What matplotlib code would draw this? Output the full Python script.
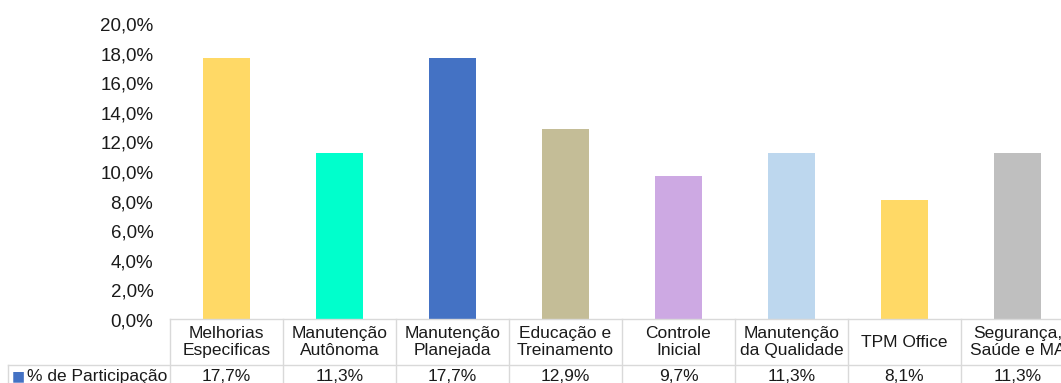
import matplotlib
matplotlib.use("Agg")
import matplotlib.pyplot as plt
from matplotlib.ticker import FuncFormatter, MultipleLocator
import matplotlib.transforms as mtransforms

plt.rcParams['font.family'] = ['Liberation Sans', 'DejaVu Sans']

categorias = ["Melhorias\nEspecificas", "Manutenção\nAutônoma", "Manutenção\nPlanejada",
              "Educação e\nTreinamento", "Controle\nInicial", "Manutenção\nda Qualidade",
              "TPM Office", "Segurança,\nSaúde e MA"]
participacao = [17.7, 11.3, 17.7, 12.9, 9.7, 11.3, 8.1, 11.3]
cores = ["#FFD966", "#00FFCC", "#4472C4", "#C4BD97", "#CDA9E3", "#BDD7EE", "#FFD966", "#BFBFBF"]
serie = "% de Participação"

W, H = 1061, 383
fig = plt.figure(figsize=(W / 100, H / 100), dpi=100)
# plot area in pixels: left 170, 113 px per category, 0% at y=320, 20% at y=24
ax = fig.add_axes([170 / W, (H - 320) / H, 8 * 113 / W, 296 / H])

x = list(range(len(categorias)))
ax.bar(x, participacao, width=0.41, color=cores)
ax.set_xlim(-0.5, len(categorias) - 0.5)
ax.set_ylim(0, 20)
ax.yaxis.set_major_locator(MultipleLocator(2))
ax.yaxis.set_major_formatter(FuncFormatter(lambda v, p: f"{v:.1f}%".replace(".", ",")))
ax.tick_params(axis="y", length=0, pad=12, labelsize=13.5, labelcolor="#1a1a1a")
ax.set_xticks([])
for s in ax.spines.values():
    s.set_visible(False)

# data table under the bars
tr = mtransforms.blended_transform_factory(ax.transData, ax.transAxes)
linha = dict(color="#D9D9D9", lw=1, transform=tr, clip_on=False)
y_top, y_mid, y_bot = 0.005, -0.152, -0.35
x_left = -0.5 - (170 - 8) / 113
ax.plot([-0.5, 7.5], [y_top, y_top], **linha)
ax.plot([x_left, 7.5], [y_mid, y_mid], **linha)
ax.plot([x_left, x_left], [y_mid, y_bot], **linha)
for i in range(len(categorias) + 1):
    ax.plot([i - 0.5, i - 0.5], [y_top, y_bot], **linha)

for i, (c, v) in enumerate(zip(categorias, participacao)):
    ax.text(i, -0.075, c, transform=tr, ha="center", va="center", fontsize=12.5,
            color="#1a1a1a", linespacing=1.2, clip_on=False)
    ax.text(i, -0.19, f"{v:.1f}%".replace(".", ","), transform=tr, ha="center",
            va="center", fontsize=12.5, color="#1a1a1a", clip_on=False)

# legend key in the table's first column
fig.text(12 / W, 1 - 376 / H, "■", color="#4472C4", fontsize=10, va="center", ha="left",
         family="DejaVu Sans")
fig.text(27 / W, 1 - 376 / H, serie, color="#1a1a1a", fontsize=12.5, va="center", ha="left")

fig.savefig("out.png", dpi=100)
